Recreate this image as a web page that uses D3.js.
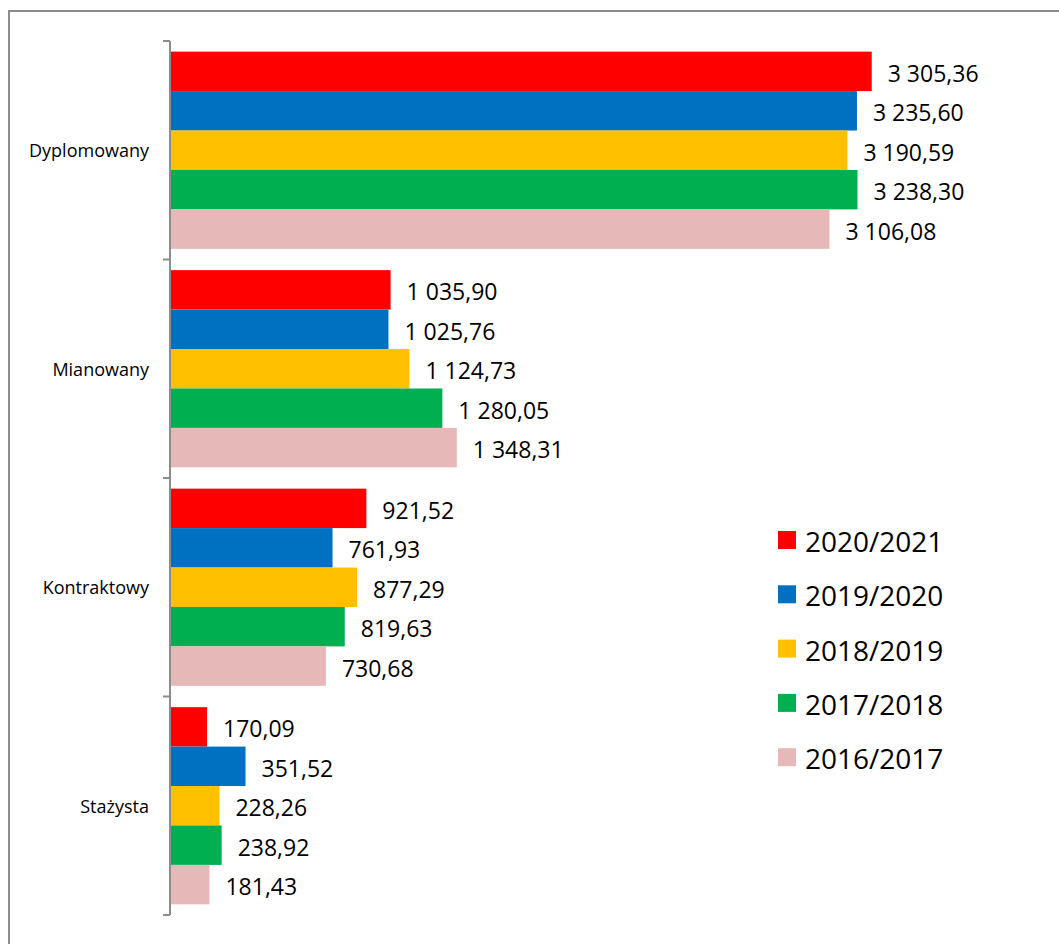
<!DOCTYPE html>
<html>
<head>
<meta charset="utf-8">
<script src="https://cdn.jsdelivr.net/npm/d3@7"></script>
<style>
  html, body { margin: 0; padding: 0; background: #fff; }
  svg { display: block; font-family: "Open Sans", sans-serif; }
</style>
</head>
<body>
<svg id="chart" width="1059" height="944"></svg>
<script>
// Teacher promotion levels
const categories = ["Dyplomowany", "Mianowany", "Kontraktowy", "Stażysta"];
// School years (one bar per year in each group)
const seriesNames = ["2020/2021", "2019/2020", "2018/2019", "2017/2018", "2016/2017"];
const seriesColors = ["#FF0000", "#0070C0", "#FFC000", "#00B050", "#E6B9B8"];
// Values per series, in category order
const values2020_2021 = [3305.36, 1035.90, 921.52, 170.09];
const values2019_2020 = [3235.60, 1025.76, 761.93, 351.52];
const values2018_2019 = [3190.59, 1124.73, 877.29, 228.26];
const values2017_2018 = [3238.30, 1280.05, 819.63, 238.92];
const values2016_2017 = [3106.08, 1348.31, 730.68, 181.43];
const seriesValues = [values2020_2021, values2019_2020, values2018_2019, values2017_2018, values2016_2017];

const svg = d3.select("#chart");

// Polish number formatting: space as thousands separator, comma decimal
const pl = d3.formatLocale({ decimal: ",", thousands: "\u00a0", grouping: [3], currency: ["", " zł"] });
const fmt = pl.format(",.2f");

// Outer frame
svg.append("rect")
  .attr("x", 9).attr("y", 11)
  .attr("width", 1070).attr("height", 960)
  .attr("fill", "none").attr("stroke", "#8c8c8c").attr("stroke-width", 2);

const x = d3.scaleLinear().domain([0, 3500]).range([171, 913]);
const y = d3.scaleBand().domain(categories).range([41, 915]).padding(0);
const yInner = d3.scaleBand().domain(seriesNames).range([0, y.bandwidth()])
  .paddingInner(0).paddingOuter(0.27);

const data = [];
categories.forEach((c, ci) => {
  seriesNames.forEach((s, si) => {
    data.push({ cat: c, series: s, color: seriesColors[si], value: seriesValues[si][ci] });
  });
});

const groups = svg.append("g");
groups.selectAll("rect.bar").data(data).join("rect")
  .attr("class", "bar")
  .attr("x", x(0))
  .attr("y", d => y(d.cat) + yInner(d.series))
  .attr("width", d => x(d.value) - x(0))
  .attr("height", yInner.bandwidth())
  .attr("fill", d => d.color);

// Value labels
groups.selectAll("text.val").data(data).join("text")
  .attr("class", "val")
  .attr("x", d => x(d.value) + 16)
  .attr("y", d => y(d.cat) + yInner(d.series) + yInner.bandwidth() / 2 + 1.5)
  .attr("dominant-baseline", "central")
  .attr("font-size", 23)
  .attr("fill", "#000")
  .text(d => fmt(d.value));

// Category axis: line with ticks on group boundaries
const axis = svg.append("g").attr("stroke", "#8c8c8c").attr("stroke-width", 2);
axis.append("line")
  .attr("x1", 170).attr("x2", 170)
  .attr("y1", y.range()[0]).attr("y2", y.range()[1]);
const boundaries = categories.map(c => y(c)).concat([y.range()[1]]);
axis.selectAll("line.tick").data(boundaries).join("line")
  .attr("class", "tick")
  .attr("x1", 163).attr("x2", 170)
  .attr("y1", d => d).attr("y2", d => d);

svg.append("g").selectAll("text").data(categories).join("text")
  .attr("x", 149)
  .attr("y", d => y(d) + y.bandwidth() / 2)
  .attr("text-anchor", "end")
  .attr("dominant-baseline", "central")
  .attr("font-size", 18)
  .attr("fill", "#000")
  .text(d => d);

// Legend
const legend = svg.append("g").attr("transform", "translate(778,540)");
const li = legend.selectAll("g").data(seriesNames).join("g")
  .attr("transform", (d, i) => `translate(0,${i * 54.3})`);
li.append("rect")
  .attr("x", 0).attr("y", -9).attr("width", 18).attr("height", 18)
  .attr("fill", (d, i) => seriesColors[i]);
li.append("text")
  .attr("x", 27).attr("y", 1)
  .attr("dominant-baseline", "central")
  .attr("font-size", 28)
  .attr("fill", "#000")
  .text(d => d);
</script>
</body>
</html>
